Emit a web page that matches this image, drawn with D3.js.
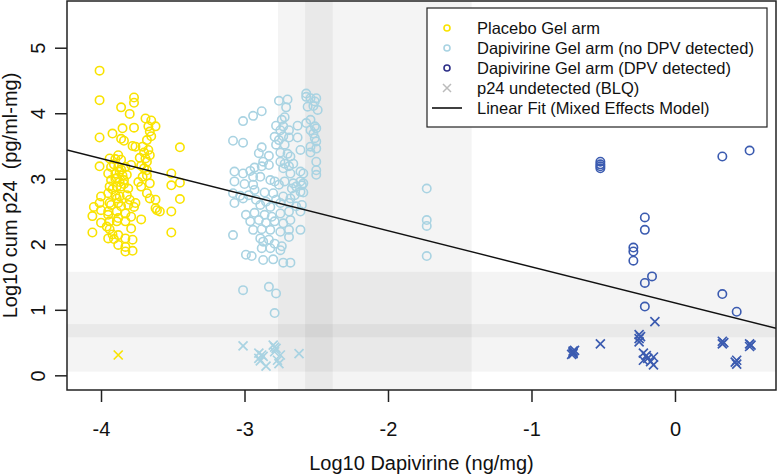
<!DOCTYPE html>
<html><head><meta charset="utf-8">
<script src="https://cdn.jsdelivr.net/npm/d3@7"></script>
<style>body{margin:0;background:#fff}svg{display:block}text{font-family:"Liberation Sans",Arial,sans-serif}</style>
</head><body><svg id="c" width="777" height="476"></svg>
<script>
// ---- data (log10 dapivirine ng/mg, log10 cum p24 pg/ml-mg) ----
const placeboX = [-4.01,-4.01,-3.86,-3.77,-3.77,-3.80,-3.69,-3.65,-3.67,-3.62,-3.85,-3.77,-3.92,-4.01,-3.86,-3.84,-3.66,-3.65,-3.68,-3.45,-3.78,-3.76,-3.71,-3.67,-3.66,-3.88,-3.73,-3.69,-3.68,-3.94,-3.86,-4.01,-3.79,-3.93,-3.88,-3.83,-3.95,-3.90,-3.87,-3.82,-3.70,-3.68,-3.51,-3.93,-3.89,-3.84,-3.71,-3.66,-3.51,-3.45,-3.72,-3.94,-3.89,-3.86,-3.81,-3.68,-4.00,-3.95,-3.90,-3.87,-3.80,-3.76,-3.62,-3.45,-4.05,-4.01,-3.94,-3.88,-3.81,-3.77,-3.62,-3.61,-3.59,-3.51,-4.06,-4.00,-3.95,-3.89,-3.83,-3.79,-3.72,-4.00,-3.94,-3.89,-3.83,-3.96,-3.94,-3.79,-4.06,-3.51,-3.95,-3.91,-3.88,-3.83,-3.78,-3.88,-3.83,-3.78,-3.83,-3.91,-3.86,-3.90,-3.84,-3.92,-3.87,-3.85,-3.89,-3.93,-3.86,-3.82,-3.90,-3.95,-3.88,-3.70,-3.72,-3.68,-3.74,-3.66,-3.92];
const placeboY = [4.65,4.20,4.09,4.24,4.16,3.99,3.92,3.89,3.80,3.80,3.77,3.78,3.69,3.63,3.61,3.58,3.72,3.65,3.59,3.48,3.50,3.49,3.49,3.44,3.36,3.36,3.32,3.31,3.26,3.31,3.29,3.19,3.21,3.18,3.18,3.18,3.08,3.08,3.11,3.06,3.16,3.13,3.08,2.98,3.01,2.98,3.03,2.93,2.90,2.94,2.88,2.88,2.88,2.88,2.85,2.78,2.73,2.78,2.75,2.73,2.68,2.63,2.68,2.69,2.57,2.63,2.63,2.63,2.60,2.57,2.55,2.52,2.50,2.50,2.43,2.52,2.50,2.50,2.47,2.42,2.38,2.33,2.35,2.35,2.35,2.27,2.23,2.24,2.18,2.18,2.09,2.08,2.14,2.09,2.07,1.99,1.96,1.90,1.89,3.22,3.14,3.00,2.92,2.84,2.95,3.05,2.70,2.60,2.58,2.75,3.30,2.45,2.40,3.40,3.20,3.05,2.95,2.70,2.15];

const noDpvX = [-2.57,-2.57,-2.54,-2.50,-2.51,-2.56,-2.52,-2.49,-2.76,-2.70,-2.71,-2.88,-2.94,-3.01,-2.72,-2.74,-2.78,-2.73,-2.75,-2.69,-2.63,-2.54,-2.51,-2.50,-3.08,-3.01,-2.79,-2.76,-2.73,-2.69,-2.78,-2.72,-2.63,-2.54,-2.52,-2.51,-2.54,-2.50,-2.88,-2.90,-2.83,-2.75,-2.70,-2.68,-2.61,-2.50,-2.50,-2.50,-2.87,-2.93,-2.96,-3.07,-3.01,-2.88,-2.83,-2.75,-2.72,-2.69,-2.66,-2.73,-2.68,-2.61,-2.59,-2.94,-2.89,-2.82,-2.79,-3.07,-3.00,-2.94,-2.76,-2.72,-2.66,-2.61,-2.64,-2.59,-2.67,-2.93,-2.86,-2.80,-2.97,-3.03,-3.08,-3.07,-3.01,-2.92,-2.85,-2.78,-2.73,-2.68,-2.65,-2.61,-2.59,-2.89,-2.82,-2.75,-2.69,-2.64,-2.60,-2.61,-2.99,-2.93,-2.86,-2.81,-2.75,-2.69,-2.96,-2.90,-2.85,-2.79,-2.73,-2.68,-2.94,-2.88,-2.82,-2.75,-2.69,-2.61,-3.08,-2.89,-2.87,-2.83,-2.79,-2.74,-2.69,-2.88,-2.82,-2.75,-2.99,-2.95,-2.87,-2.80,-2.73,-2.68,-3.01,-2.83,-2.78,-2.79,-1.73,-1.73,-1.73,-1.73,-2.57,-2.54,-2.50,-2.60];
const noDpvY = [4.30,4.25,4.23,4.23,4.18,4.10,4.11,4.05,4.19,4.21,4.09,4.03,3.96,3.88,3.94,3.90,3.81,3.80,3.74,3.74,3.81,3.90,3.80,3.77,3.58,3.55,3.64,3.59,3.65,3.63,3.52,3.52,3.63,3.74,3.69,3.62,3.49,3.46,3.48,3.39,3.35,3.40,3.38,3.34,3.44,3.26,3.13,3.06,3.26,3.17,3.12,3.11,3.08,3.19,3.21,3.26,3.23,3.19,3.23,3.16,3.08,3.11,3.08,3.03,3.03,2.98,2.96,2.96,2.92,2.91,2.91,2.96,2.93,2.96,2.88,2.93,2.85,2.83,2.79,2.78,2.75,2.74,2.78,2.63,2.70,2.68,2.65,2.68,2.73,2.70,2.75,2.80,2.79,2.60,2.57,2.63,2.63,2.58,2.60,2.50,2.45,2.48,2.45,2.42,2.47,2.50,2.35,2.37,2.33,2.35,2.32,2.37,2.22,2.23,2.22,2.19,2.22,2.22,2.14,2.09,2.04,2.07,2.01,1.97,2.11,1.94,1.94,1.91,1.84,1.82,1.76,1.77,1.72,1.72,1.30,1.35,1.25,0.95,2.85,2.37,2.28,1.82,3.85,3.40,3.57,2.90];

const dpvX = [-0.52,-0.52,-0.52,-0.52,0.33,0.52,-0.21,-0.21,-0.29,-0.29,-0.29,-0.16,-0.21,-0.21,0.33,0.43];
const dpvY = [3.26,3.22,3.19,3.16,3.34,3.43,2.41,2.22,1.95,1.89,1.75,1.51,1.41,1.05,1.24,0.97];

// p24 undetected (BLQ) observations, by arm
const placeboBlqX = [-3.88];
const placeboBlqY = [0.31];
const noDpvBlqX = [-3.01,-2.88,-2.90,-2.87,-2.85,-2.80,-2.78,-2.79,-2.75,-2.77,-2.76,-2.62,-2.90,-2.89,-2.79];
const noDpvBlqY = [0.45,0.31,0.26,0.29,0.14,0.46,0.41,0.36,0.31,0.23,0.18,0.33,0.34,0.22,0.43];
const dpvBlqX = [-0.14,-0.52,-0.71,-0.71,-0.71,-0.72,-0.70,-0.25,-0.25,-0.25,-0.24,-0.22,-0.19,-0.15,-0.22,-0.15,-0.17,-0.20,0.33,0.33,0.34,0.52,0.52,0.53,0.43,0.43,0.42];
const dpvBlqY = [0.82,0.48,0.33,0.35,0.37,0.32,0.38,0.62,0.56,0.51,0.59,0.34,0.26,0.28,0.23,0.16,0.21,0.30,0.48,0.52,0.50,0.44,0.48,0.46,0.23,0.17,0.20];

// mixed effects linear fit
const fitIntercept = 1.105, fitSlope = -0.551;

// shaded reference bands
const xBands = [[-2.767,-1.417],[-2.578,-2.385]];
const yBands = [[0.055,1.581],[0.58,0.783]];

const xTicks = [-4,-3,-2,-1,0];
const yTicks = [0,1,2,3,4,5];
const legendLabels = ["Placebo Gel arm","Dapivirine Gel arm (no DPV detected)","Dapivirine Gel arm (DPV detected)","p24 undetected (BLQ)","Linear Fit (Mixed Effects Model)"];

// ---- drawing ----
const svg = d3.select("#c");
const L=67, R=776, T=1, B=390;
const x = d3.scaleLinear().domain([-4.237,0.704]).range([L,R]);
const y = d3.scaleLinear().domain([-0.224,5.713]).range([B,T]);

const cols = {placebo:"#f9e300", nodpv:"#a9d3e2", dpv:"#3b5bb0"};

const plot = svg.append("g");
plot.append("defs").append("clipPath").attr("id","clip").append("rect").attr("x",L).attr("y",T).attr("width",R-L).attr("height",B-T);
const bands = plot.append("g").attr("clip-path","url(#clip)");
xBands.forEach(b=>bands.append("rect").attr("x",x(b[0])).attr("width",x(b[1])-x(b[0])).attr("y",T).attr("height",B-T).attr("fill","#000").attr("fill-opacity",0.045));
yBands.forEach(b=>bands.append("rect").attr("x",L).attr("width",R-L).attr("y",y(b[1])).attr("height",y(b[0])-y(b[1])).attr("fill","#000").attr("fill-opacity",0.045));

function circles(xs,ys,c){
  plot.append("g").selectAll("circle").data(xs.map((v,i)=>[v,ys[i]])).join("circle")
   .attr("cx",d=>x(d[0])).attr("cy",d=>y(d[1])).attr("r",4.2).attr("fill","none").attr("stroke",c).attr("stroke-width",1.6);
}
function crosses(xs,ys,c){
  const a=4.5;
  plot.append("g").selectAll("path").data(xs.map((v,i)=>[v,ys[i]])).join("path")
   .attr("d",`M${-a},${-a}L${a},${a}M${-a},${a}L${a},${-a}`)
   .attr("transform",d=>`translate(${x(d[0])},${y(d[1])})`).attr("stroke",c).attr("stroke-width",1.7).attr("fill","none");
}
circles(placeboX,placeboY,cols.placebo);
circles(noDpvX,noDpvY,cols.nodpv);
circles(dpvX,dpvY,cols.dpv);
crosses(placeboBlqX,placeboBlqY,cols.placebo);
crosses(noDpvBlqX,noDpvBlqY,cols.nodpv);
crosses(dpvBlqX,dpvBlqY,cols.dpv);

const xd = x.domain();
plot.append("line").attr("clip-path","url(#clip)")
  .attr("x1",x(xd[0])).attr("y1",y(fitIntercept+fitSlope*xd[0]))
  .attr("x2",x(xd[1])).attr("y2",y(fitIntercept+fitSlope*xd[1]))
  .attr("stroke","#111").attr("stroke-width",1.4);

// box
svg.append("rect").attr("x",L).attr("y",T).attr("width",R-L).attr("height",B-T).attr("fill","none").attr("stroke","#222").attr("stroke-width",1.5);

// axes
const fmt = d => String(d);
const xa = svg.append("g").attr("transform",`translate(0,${B})`)
  .call(d3.axisBottom(x).tickValues(xTicks).tickSize(12).tickPadding(20).tickFormat(fmt));
xa.select(".domain").remove();
xa.selectAll("line").attr("stroke","#222").attr("stroke-width",1.5);
xa.selectAll("text").attr("font-size",20).attr("fill","#111").attr("font-family","Liberation Sans, Arial, sans-serif");

const ya = svg.append("g").attr("transform",`translate(${L},0)`)
  .call(d3.axisLeft(y).tickValues(yTicks).tickSize(12).tickFormat(fmt));
ya.select(".domain").remove();
ya.selectAll("line").attr("stroke","#222").attr("stroke-width",1.5);
ya.selectAll("text").attr("font-size",20).attr("fill","#111").attr("font-family","Liberation Sans, Arial, sans-serif")
  .attr("x",null).attr("dy",null).attr("text-anchor","middle")
  .attr("transform","translate(-22,0) rotate(-90)");

svg.append("text").attr("x",(L+R)/2).attr("y",470).attr("text-anchor","middle").attr("font-size",20).attr("fill","#111")
  .text("Log10 Dapivirine (ng/mg)");
svg.append("text").attr("transform",`translate(17,${(T+B)/2}) rotate(-90)`).attr("text-anchor","middle").attr("font-size",20).attr("fill","#111")
  .attr("xml:space","preserve").style("white-space","pre").text("Log10 cum p24  (pg/ml-mg)");

// legend
const lg = svg.append("g");
lg.append("rect").attr("x",427).attr("y",8).attr("width",340).attr("height",119).attr("fill","#fff").attr("stroke","#222").attr("stroke-width",1.2);
const legCols = [cols.placebo,"#a9d3e2","#2e3088","#bbbbbb","#111"];
legendLabels.forEach((t,i)=>{
  const cy = 28 + i*20, sx = 447;
  if(i<3) lg.append("circle").attr("cx",sx).attr("cy",cy).attr("r",3).attr("fill","none").attr("stroke",legCols[i]).attr("stroke-width",1.6);
  else if(i===3) lg.append("path").attr("d",`M${sx-4},${cy-4}L${sx+4},${cy+4}M${sx-4},${cy+4}L${sx+4},${cy-4}`).attr("stroke",legCols[i]).attr("stroke-width",1.5);
  else lg.append("line").attr("x1",432).attr("x2",462).attr("y1",cy).attr("y2",cy).attr("stroke",legCols[i]).attr("stroke-width",1.6);
  lg.append("text").attr("x",477).attr("y",cy).attr("dy","0.35em").attr("font-size",16.5).attr("fill","#111").text(t);
});
</script></body></html>
